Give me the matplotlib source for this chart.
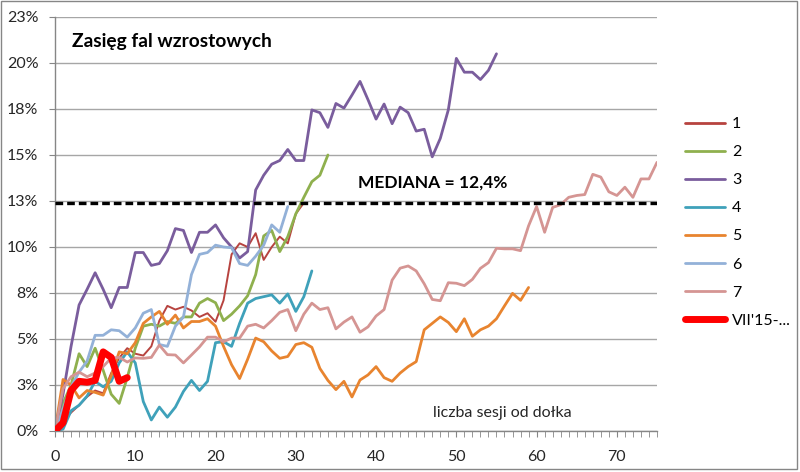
import numpy as np
import matplotlib
matplotlib.use("Agg")
import matplotlib.pyplot as plt
from matplotlib.patches import Rectangle

plt.rcParams['font.family'] = ['Lato', 'DejaVu Sans']

# ----------------------------------
# DATA (percent, index = sessions since bottom)
# ----------------------------------

s1 = [0, 0.5, 1.0, 1.4, 1.86, 2.2, 2.05, 3.15, 3.97, 4.5, 4.2, 4.1, 4.6, 6.0, 6.8, 6.6,
      6.75, 6.55, 6.2, 6.4, 5.94, 7.1, 9.6, 10.2, 10.0, 10.75, 9.3, 10.0, 10.56, 10.2, 11.8, 12.4]

s2 = [0, 1.5, 2.5, 4.2, 3.5, 4.5, 3.3, 2.0, 1.5, 2.9, 4.5, 5.7, 5.8, 5.7, 5.95, 5.85,
      6.2, 6.2, 6.95, 7.2, 6.97, 6.0, 6.35, 6.8, 7.35, 8.5, 10.6, 10.9, 9.75, 10.56,
      11.8, 12.7, 13.55, 13.9, 15.0]

s3 = [0, 2.0, 4.6, 6.85, 7.7, 8.6, 7.7, 6.7, 7.8, 7.8, 9.7, 9.7, 9.0, 9.1, 9.8, 11.0,
      10.9, 9.7, 10.8, 10.8, 11.2, 10.5, 10.0, 9.4, 9.75, 13.1, 13.9, 14.5, 14.7, 15.3,
      14.7, 14.7, 17.45, 17.3, 16.5, 17.8, 17.55, 18.26, 19.0, 18.0, 16.95, 17.77, 16.7,
      17.6, 17.3, 16.3, 16.4, 14.9, 15.9, 17.45, 20.25, 19.5, 19.5, 19.1, 19.6, 20.5]

s4 = [0, 0.1, 1.1, 1.4, 1.9, 2.7, 2.4, 2.7, 3.7, 4.3, 3.7, 1.6, 0.6, 1.3, 0.75, 1.3,
      2.15, 2.75, 2.2, 2.7, 4.8, 4.85, 4.6, 5.85, 6.95, 7.2, 7.3, 7.4, 6.95, 7.45,
      6.5, 7.3, 8.7]

s5 = [0, 2.8, 2.5, 1.8, 2.2, 2.1, 1.95, 3.0, 4.3, 4.2, 4.8, 5.85, 6.2, 6.5, 5.8, 6.3,
      5.6, 5.95, 5.95, 6.1, 5.7, 4.6, 3.6, 2.85, 3.9, 5.05, 4.85, 4.35, 3.95, 4.05,
      4.7, 4.8, 4.55, 3.4, 2.75, 2.25, 2.7, 1.85, 2.77, 3.05, 3.5, 2.9, 2.7, 3.15,
      3.5, 3.77, 5.5, 5.85, 6.2, 5.9, 5.4, 6.1, 5.15, 5.5, 5.7, 6.1, 6.8, 7.48, 7.1, 7.8]

s6 = [0, 1.2, 2.4, 3.2, 3.8, 5.2, 5.2, 5.5, 5.45, 5.1, 5.6, 6.4, 6.6, 4.7, 4.6, 5.7,
      6.2, 8.5, 9.6, 9.7, 10.1, 10.0, 9.96, 9.1, 9.0, 9.5, 10.1, 11.2, 10.8, 12.2]

s7 = [0, 2.3, 2.95, 3.2, 2.95, 3.15, 3.5, 3.97, 4.0, 3.75, 3.97, 3.95, 4.0, 4.67, 4.15,
      4.13, 3.7, 4.13, 4.57, 5.1, 5.1, 4.85, 5.05, 5.05, 5.7, 5.8, 5.6, 6.0, 6.45, 6.6,
      5.45, 6.35, 6.95, 6.6, 6.7, 5.55, 5.92, 6.2, 5.37, 5.66, 6.25, 6.6, 8.2, 8.85,
      8.97, 8.7, 8.0, 7.15, 7.08, 8.06, 8.03, 7.9, 8.24, 8.84, 9.15, 9.93, 9.9, 9.9,
      9.8, 11.15, 12.2, 10.8, 12.15, 12.3, 12.7, 12.8, 12.85, 13.95, 13.8, 13.0, 12.8,
      13.25, 12.7, 13.7, 13.7, 14.6]

vii = [0, 0.45, 2.2, 2.7, 2.65, 2.75, 4.3, 4.0, 2.7, 2.9]

labels = ['1', '2', '3', '4', '5', '6', '7', "VII'15-..."]
colors = ['#B7433F', '#8FB04E', '#7A5D9D', '#3FA1BA', '#E8842F', '#93B1D8', '#D59593', '#FF0000']
widths = [1.4, 2.0, 2.0, 2.0, 2.0, 2.0, 2.0, 5.0]

median = 12.4
ytick_vals = [0, 2.5, 5, 7.5, 10, 12.5, 15, 17.5, 20, 22.5]
ytick_labels = ['0%', '3%', '5%', '8%', '10%', '13%', '15%', '18%', '20%', '23%']
xtick_vals = [0, 10, 20, 30, 40, 50, 60, 70]

# ----------------------------------
# PLOT
# ----------------------------------

W, H = 800, 472
fig = plt.figure(figsize=(W / 100, H / 100), dpi=100)
ax = fig.add_axes([55 / W, 1 - 431 / H, (657 - 55) / W, (431 - 17) / H])

series = [s1, s2, s3, s4, s5, s6, s7, vii]
handles = []
for vals, lab, c, lw in zip(series, labels, colors, widths):
    x = np.arange(len(vals))
    z = 4 if lab.startswith('VII') else 2
    h, = ax.plot(x, vals, color=c, lw=lw, label=lab, zorder=z,
                 solid_joinstyle='round', solid_capstyle='round')
    handles.append(h)

ax.axhline(median, color='black', lw=2.4, dashes=(2.3, 1.2), zorder=3)

ax.set_xlim(0, 75)
ax.set_ylim(0, 22.5)
ax.set_yticks(ytick_vals)
ax.set_yticklabels(ytick_labels)
ax.set_xticks(xtick_vals)
ax.set_xticks(np.arange(0, 76, 1), minor=True)

ax.grid(axis='y', color='#A6A6A6', lw=1, zorder=0)
for side in ['top', 'right']:
    ax.spines[side].set_visible(False)
for side in ['left', 'bottom']:
    ax.spines[side].set_color('#868686')
    ax.spines[side].set_linewidth(1)

ax.tick_params(axis='y', length=4, color='#868686', pad=8, labelsize=11.5, labelcolor='#262626')
ax.tick_params(axis='x', which='both', length=4, color='#868686', pad=10,
               labelsize=11.5, labelcolor='#262626')

fig.text(72 / W, 1 - 42 / H, 'Zasięg fal wzrostowych', fontsize=13.8,
         fontweight='bold', va='center', ha='left')
fig.text(358 / W, 1 - 183 / H, 'MEDIANA = 12,4%', fontsize=12.5,
         fontweight='bold', va='center', ha='left')
fig.text(433 / W, 1 - 413 / H, 'liczba sesji od dołka', fontsize=11.5,
         va='center', ha='left', color='#262626')

leg = fig.legend(handles=handles, loc='upper left', bbox_to_anchor=(685 / W, 1 - 117 / H),
                 frameon=False, fontsize=11.5, handlelength=2.5, handletextpad=0.45,
                 labelspacing=0.87, borderpad=0, borderaxespad=0)
for line in leg.get_lines():
    if line.get_label().startswith('VII'):
        line.set_linewidth(5)
    else:
        line.set_linewidth(2.0)

fig.patches.append(Rectangle((1 / W, 3 / H), 796 / W, 468 / H, transform=fig.transFigure,
                             fill=False, edgecolor='#868686', lw=1))

plt.savefig('out.png', dpi=100)
plt.close()
